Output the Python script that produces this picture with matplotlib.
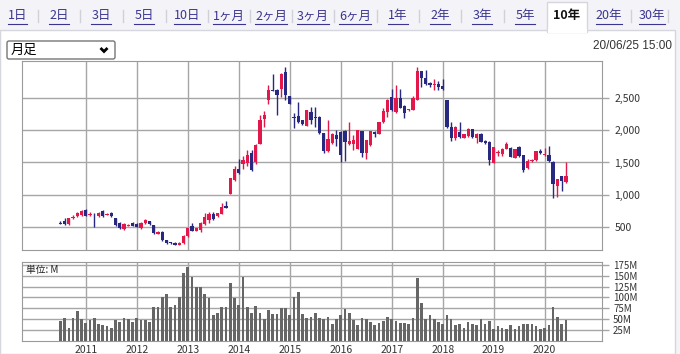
import matplotlib
matplotlib.use("Agg")
import matplotlib.pyplot as plt
from matplotlib.patches import Rectangle, FancyBboxPatch
import numpy as np

plt.rcParams['font.family'] = ['Noto Sans CJK JP', 'DejaVu Sans']

# period tabs and labels
tabs = ['1日', '2日', '3日', '5日', '10日', '1ヶ月', '2ヶ月', '3ヶ月', '6ヶ月',
        '1年', '2年', '3年', '5年', '10年', '20年', '30年']
selected_tab = '10年'
period_label = '月足'
date_label = '20/06/25 15:00'
unit_label = '単位: M'
years = ['2011', '2012', '2013', '2014', '2015', '2016', '2017', '2018', '2019', '2020']
price_ticks = [500, 1000, 1500, 2000, 2500]
vol_ticks = [25, 50, 75, 100, 125, 150, 175]

# monthly candles, 2010-07 .. 2020-06
opens = [570, 600, 545, 640, 675, 690, 765, 700, 715, 675, 750, 700,
         720, 640, 565, 475, 530, 565, 550, 485, 560, 595, 535, 400,
         430, 305, 270, 265, 230, 255, 360, 520, 450, 460, 550, 610,
         700, 675, 705, 830, 1020, 1230, 1407, 1475, 1485, 1640, 1510, 1790,
         2165, 2460, 2620, 2620, 2640, 2895, 2520, 2200, 2210, 2150, 2065, 2280,
         2195, 2200, 1955, 1680, 1800, 1920, 1970, 1985, 1790, 1790, 1715, 1980,
         1640, 1765, 1970, 1945, 2125, 2280, 2510, 2280, 2500, 2365, 2315, 2315,
         2470, 2905, 2805, 2725, 2695, 2715, 2675, 2460, 2055, 1885, 1970, 1885,
         1905, 2010, 1880, 1945, 1830, 1815, 1495, 1650, 1630, 1715, 1730, 1575,
         1740, 1610, 1410, 1530, 1535, 1675, 1625, 1610, 1510, 1135, 1290, 1200]
highs = [600, 650, 650, 690, 740, 760, 775, 740, 720, 735, 760, 720,
         730, 650, 575, 560, 550, 575, 560, 580, 625, 600, 540, 445,
         440, 310, 280, 270, 270, 375, 495, 560, 495, 580, 720, 740,
         740, 725, 880, 900, 1260, 1440, 1560, 1600, 1690, 1690, 1790, 2230,
         2300, 2700, 2870, 2630, 2880, 2980, 2530, 2270, 2430, 2160, 2310, 2355,
         2350, 2210, 1960, 2150, 1950, 2000, 1980, 2000, 2120, 1920, 2005, 1990,
         1850, 1990, 1980, 2130, 2340, 2480, 2640, 2700, 2630, 2380, 2330, 2530,
         2970, 2910, 2930, 2740, 2790, 2760, 2795, 2470, 2120, 2070, 2120, 1945,
         2030, 2020, 1950, 1960, 1840, 1830, 1745, 1690, 1720, 1810, 1740, 1710,
         1760, 1620, 1560, 1560, 1680, 1710, 1720, 1760, 1520, 1250, 1295, 1510]
lows = [555, 535, 540, 630, 665, 680, 670, 670, 510, 665, 665, 690,
        665, 525, 480, 460, 515, 515, 505, 480, 555, 540, 400, 390,
        295, 245, 250, 225, 225, 250, 355, 440, 440, 420, 540, 560,
        615, 660, 700, 795, 1015, 1215, 1320, 1400, 1440, 1370, 1480, 1780,
        2050, 2400, 2600, 2230, 2510, 2460, 2400, 2030, 2110, 2080, 2060, 2100,
        2050, 1940, 1640, 1660, 1790, 1750, 1510, 1530, 1770, 1700, 1710, 1580,
        1560, 1750, 1900, 1935, 2110, 2200, 2290, 2270, 2340, 2180, 2300, 2310,
        2460, 2660, 2690, 2670, 2620, 2620, 2620, 2030, 1830, 1840, 1880, 1870,
        1890, 1880, 1800, 1810, 1790, 1460, 1490, 1600, 1600, 1710, 1580, 1570,
        1590, 1350, 1400, 1500, 1530, 1630, 1600, 1510, 945, 960, 1060, 1180]
closes = [565, 545, 640, 665, 715, 750, 680, 710, 705, 725, 675, 710,
          675, 535, 490, 550, 535, 520, 510, 570, 610, 545, 410, 430,
          305, 255, 262, 230, 265, 365, 485, 450, 485, 570, 665, 700,
          625, 715, 815, 800, 1254, 1407, 1340, 1535, 1610, 1380, 1765, 2150,
          2240, 2620, 2615, 2535, 2870, 2535, 2405, 2190, 2125, 2090, 2305, 2150,
          2190, 1955, 1680, 1860, 1935, 1860, 1610, 1815, 1825, 1850, 2000, 1640,
          1840, 1985, 1945, 2125, 2295, 2470, 2305, 2500, 2345, 2265, 2325, 2500,
          2905, 2800, 2705, 2690, 2710, 2660, 2635, 2050, 1870, 2055, 1895, 1935,
          2010, 1895, 1935, 1815, 1800, 1535, 1740, 1655, 1715, 1790, 1585, 1705,
          1595, 1390, 1525, 1540, 1675, 1640, 1635, 1525, 1165, 1240, 1220, 1290]
# monthly volume, millions of shares
volumes = [46, 52, 29, 52, 68, 50, 41, 48, 52, 39, 37, 34,
           29, 48, 43, 52, 50, 43, 52, 48, 48, 43, 77, 79,
           101, 109, 77, 83, 101, 157, 170, 146, 123, 125, 109, 98,
           60, 65, 77, 79, 134, 98, 83, 148, 77, 65, 81, 65,
           50, 71, 62, 63, 75, 75, 60, 100, 112, 63, 52, 55,
           65, 52, 50, 55, 39, 50, 59, 73, 65, 48, 37, 52,
           50, 43, 37, 41, 45, 55, 50, 45, 41, 41, 39, 52,
           144, 88, 50, 60, 50, 43, 40, 60, 50, 37, 40, 29,
           43, 39, 37, 50, 39, 45, 27, 34, 29, 27, 36, 28,
           34, 39, 39, 39, 34, 27, 29, 36, 77, 55, 40, 48]

W, H = 680, 354
UP = '#e3174a'
DOWN = '#27287f'
GRID = '#a6a6a6'


def box(x0, y0, x1, y1):
    # pixel box (top-left origin) -> figure fraction
    return [x0 / W, 1 - y1 / H, (x1 - x0) / W, (y1 - y0) / H]


fig = plt.figure(figsize=(W / 100, H / 100), dpi=100)

# page decoration in pixel coordinates
bg = fig.add_axes([0, 0, 1, 1], zorder=0)
bg.set_xlim(0, W)
bg.set_ylim(H, 0)
bg.axis('off')
bg.add_patch(Rectangle((0, 0), W, H, facecolor='#f3f3f8', edgecolor='none'))
bg.add_patch(Rectangle((0, 30), 675, H - 30, facecolor='white', edgecolor='#d6d6de', lw=1))

tab_x = [17.5, 59, 101, 144, 187, 229, 271, 313, 355, 398, 440, 482, 525, 567, 609, 652]
sel = tabs.index(selected_tab)
bg.add_patch(Rectangle((tab_x[sel] - 20, 2), 40, 30, facecolor='white',
                       edgecolor='#d6d6de', lw=1, zorder=2))
bg.add_patch(Rectangle((tab_x[sel] - 19.5, 29), 39, 4, facecolor='white',
                       edgecolor='none', zorder=3))
renderer = fig.canvas.get_renderer()
for k, (label, x) in enumerate(zip(tabs, tab_x)):
    if k == sel:
        bg.text(x, 16, label, ha='center', va='center', fontsize=9,
                fontweight='bold', color='#111111', zorder=4)
        continue
    t = bg.text(x, 16, label, ha='center', va='center', fontsize=9,
                color='#3a3590', zorder=4)
    bb = t.get_window_extent(renderer)
    bg.plot([bb.x0 * W / fig.bbox.width, bb.x1 * W / fig.bbox.width], [24, 24],
            color='#3a3590', lw=0.8, zorder=4)
    if k + 1 < len(tabs) and k + 1 != sel:
        sx = (x + tab_x[k + 1]) / 2
        bg.plot([sx, sx], [10, 22], color='#d0d0d8', lw=1, zorder=4)
bg.plot([668, 668], [10, 22], color='#d0d0d8', lw=1)

# period dropdown
bg.add_patch(FancyBboxPatch((7, 41), 108, 18, boxstyle='round,pad=0,rounding_size=2',
                            facecolor='white', edgecolor='#767676', lw=1, zorder=3))
bg.text(11, 50.5, period_label, ha='left', va='center', fontsize=9.5, color='black', zorder=4)
bg.plot([100.5, 104, 107.5], [48, 51.5, 48], color='black', lw=2, zorder=4,
        solid_capstyle='butt', solid_joinstyle='miter')
bg.text(672, 46, date_label, ha='right', va='center', fontsize=8.5,
        family='Liberation Sans', color='#333333')

months = np.arange(len(opens))
year_pos = [6 + 12 * k for k in range(len(years))]
xlim = (-8.95, 127.5)

# price panel
ax = fig.add_axes(box(22.3, 60.7, 602, 250), zorder=1)
ax.set_xlim(*xlim)
ax.set_ylim(150, 3070)
for i in months:
    o, h, l, c = opens[i], highs[i], lows[i], closes[i]
    col = UP if c > o else DOWN
    ax.vlines(i, l, h, color=col, lw=1, zorder=3)
    body = abs(c - o)
    ax.bar(i, max(body, 14), bottom=min(o, c) - (7 if body < 14 else 0),
           width=0.78, color=col, lw=0, zorder=4)
ax.set_xticks(year_pos)
ax.set_xticklabels([])
ax.tick_params(axis='x', length=0)
ax.set_yticks(price_ticks)
ax.set_yticklabels([f'{v:,}' for v in price_ticks])
ax.yaxis.tick_right()
ax.tick_params(axis='y', length=5, width=1, color=GRID, pad=4, labelsize=7.5,
               labelcolor='#333333')
ax.grid(True, color=GRID, lw=1)
ax.set_axisbelow(True)
for s in ax.spines.values():
    s.set_color('#9a9a9a')

# volume panel
av = fig.add_axes(box(22.3, 261.7, 602, 341), zorder=1)
av.set_xlim(*xlim)
av.set_ylim(0, 182)
av.bar(months, volumes, width=0.62, color='#666666', lw=0, zorder=3)
av.set_xticks(year_pos)
av.set_xticklabels(years)
av.tick_params(axis='x', length=0, pad=3, labelsize=7.5, labelcolor='#333333')
av.set_yticks(vol_ticks)
av.set_yticklabels([f'{v}M' for v in vol_ticks])
av.yaxis.tick_right()
av.tick_params(axis='y', length=5, width=1, color=GRID, pad=3, labelsize=7,
               labelcolor='#333333')
av.grid(True, color=GRID, lw=1)
av.set_axisbelow(True)
for s in av.spines.values():
    s.set_color('#9a9a9a')
av.text(0.006, 0.9, unit_label, transform=av.transAxes, fontsize=7,
        color='#222222', va='center', ha='left', zorder=5)

fig.savefig('out.png', dpi=100)
